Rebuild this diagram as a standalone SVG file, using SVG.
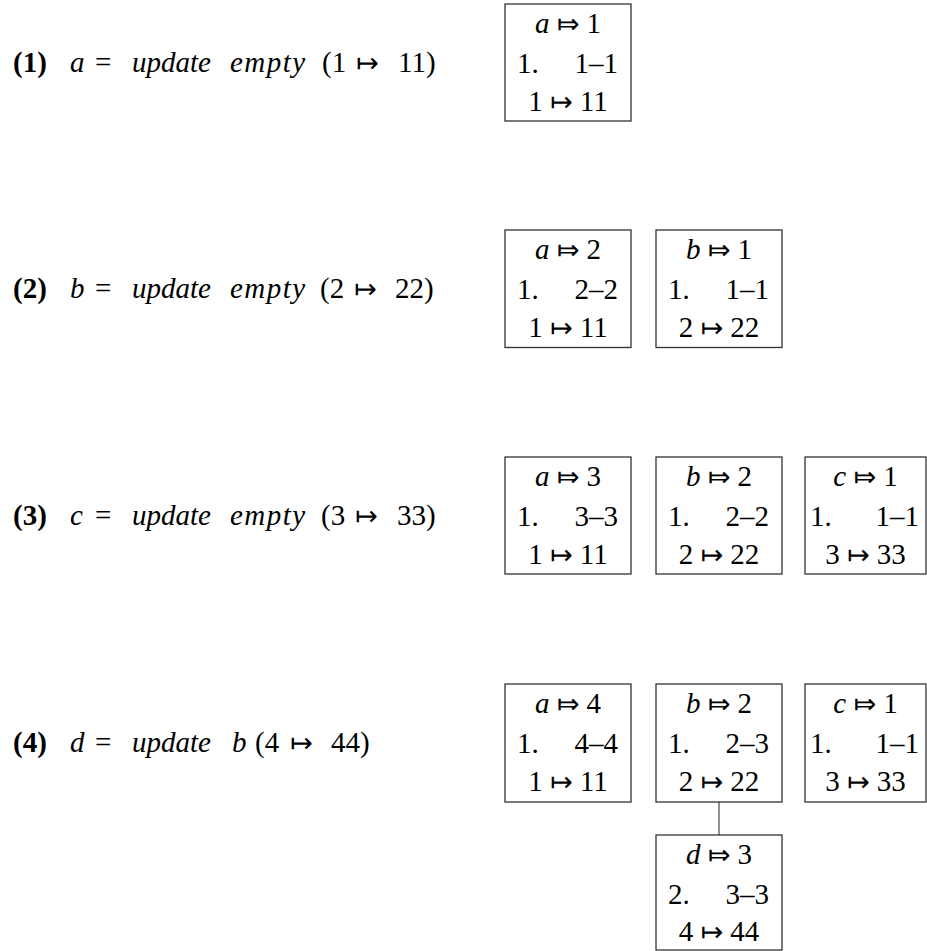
<svg xmlns="http://www.w3.org/2000/svg" width="927" height="951" viewBox="0 0 927 951">
<style>
.t{font-family:"Liberation Serif","DejaVu Serif",serif;font-size:29px;fill:#000}
.i{font-style:italic}
.b{font-weight:bold}
.ar{font-family:"DejaVu Sans","DejaVu Serif",sans-serif;font-size:27px}
.box{fill:#fff;stroke:#333;stroke-width:1.3}
.m{text-anchor:middle}
.e{text-anchor:end}
.con{stroke:#555;stroke-width:1.3;fill:none}
</style>
<rect width="927" height="951" fill="#fff"/>
<g id="labels">
<text class="t" y="72"><tspan x="13" class="b">(1)</tspan><tspan x="70" class="i">a</tspan><tspan x="95">=</tspan><tspan x="132" class="i">update</tspan><tspan x="230" class="i" letter-spacing="1.5">empty</tspan><tspan x="322">(1</tspan><tspan x="356" class="ar">↦</tspan><tspan x="398">11)</tspan></text>
<text class="t" y="298"><tspan x="13" class="b">(2)</tspan><tspan x="70" class="i">b</tspan><tspan x="95">=</tspan><tspan x="132" class="i">update</tspan><tspan x="230" class="i" letter-spacing="1.5">empty</tspan><tspan x="320">(2</tspan><tspan x="354" class="ar">↦</tspan><tspan x="395">22)</tspan></text>
<text class="t" y="525"><tspan x="13" class="b">(3)</tspan><tspan x="70" class="i">c</tspan><tspan x="95">=</tspan><tspan x="132" class="i">update</tspan><tspan x="230" class="i" letter-spacing="1.5">empty</tspan><tspan x="321">(3</tspan><tspan x="355" class="ar">↦</tspan><tspan x="397">33)</tspan></text>
<text class="t" y="752"><tspan x="13" class="b">(4)</tspan><tspan x="70" class="i">d</tspan><tspan x="95">=</tspan><tspan x="132" class="i">update</tspan><tspan x="232" class="i">b</tspan><tspan x="255">(4</tspan><tspan x="290" class="ar">↦</tspan><tspan x="331">44)</tspan></text>
</g>
<g id="connectors">
<line class="con" x1="719" y1="802" x2="719" y2="835"/>
</g>
<g id="node-a1">
<rect class="box" x="505" y="4" width="126" height="117"/>
<text class="t m" x="568" y="33"><tspan class="i">a</tspan> <tspan class="ar">⤇</tspan> 1</text>
<text class="t" x="517" y="73">1.</text><text class="t e" x="618" y="73">1–1</text>
<text class="t m" x="568" y="111">1 <tspan class="ar">↦</tspan> 11</text>
</g>
<g id="node-a2">
<rect class="box" x="505" y="230" width="126" height="117.5"/>
<text class="t m" x="568" y="259"><tspan class="i">a</tspan> <tspan class="ar">⤇</tspan> 2</text>
<text class="t" x="517" y="299">1.</text><text class="t e" x="618" y="299">2–2</text>
<text class="t m" x="568" y="337">1 <tspan class="ar">↦</tspan> 11</text>
</g>
<g id="node-b2">
<rect class="box" x="656" y="230" width="126" height="117.5"/>
<text class="t m" x="719" y="259"><tspan class="i">b</tspan> <tspan class="ar">⤇</tspan> 1</text>
<text class="t" x="668" y="299">1.</text><text class="t e" x="769" y="299">1–1</text>
<text class="t m" x="719" y="337">2 <tspan class="ar">↦</tspan> 22</text>
</g>
<g id="node-a3">
<rect class="box" x="505" y="457" width="126" height="117"/>
<text class="t m" x="568" y="486"><tspan class="i">a</tspan> <tspan class="ar">⤇</tspan> 3</text>
<text class="t" x="517" y="526">1.</text><text class="t e" x="618" y="526">3–3</text>
<text class="t m" x="568" y="564">1 <tspan class="ar">↦</tspan> 11</text>
</g>
<g id="node-b3">
<rect class="box" x="656" y="457" width="126" height="117"/>
<text class="t m" x="719" y="486"><tspan class="i">b</tspan> <tspan class="ar">⤇</tspan> 2</text>
<text class="t" x="668" y="526">1.</text><text class="t e" x="769" y="526">2–2</text>
<text class="t m" x="719" y="564">2 <tspan class="ar">↦</tspan> 22</text>
</g>
<g id="node-c3">
<rect class="box" x="805" y="457" width="121" height="117"/>
<text class="t m" x="865.5" y="486"><tspan class="i">c</tspan> <tspan class="ar">⤇</tspan> 1</text>
<text class="t" x="810" y="526">1.</text><text class="t e" x="919" y="526">1–1</text>
<text class="t m" x="865.5" y="564">3 <tspan class="ar">↦</tspan> 33</text>
</g>
<g id="node-a4">
<rect class="box" x="505" y="684" width="126" height="118"/>
<text class="t m" x="568" y="713"><tspan class="i">a</tspan> <tspan class="ar">⤇</tspan> 4</text>
<text class="t" x="517" y="753">1.</text><text class="t e" x="618" y="753">4–4</text>
<text class="t m" x="568" y="791">1 <tspan class="ar">↦</tspan> 11</text>
</g>
<g id="node-b4">
<rect class="box" x="656" y="684" width="126" height="118"/>
<text class="t m" x="719" y="713"><tspan class="i">b</tspan> <tspan class="ar">⤇</tspan> 2</text>
<text class="t" x="668" y="753">1.</text><text class="t e" x="769" y="753">2–3</text>
<text class="t m" x="719" y="791">2 <tspan class="ar">↦</tspan> 22</text>
</g>
<g id="node-c4">
<rect class="box" x="805" y="684" width="121" height="118"/>
<text class="t m" x="865.5" y="713"><tspan class="i">c</tspan> <tspan class="ar">⤇</tspan> 1</text>
<text class="t" x="810" y="753">1.</text><text class="t e" x="919" y="753">1–1</text>
<text class="t m" x="865.5" y="791">3 <tspan class="ar">↦</tspan> 33</text>
</g>
<g id="node-d">
<rect class="box" x="656" y="835" width="126" height="115"/>
<text class="t m" x="719" y="864"><tspan class="i">d</tspan> <tspan class="ar">⤇</tspan> 3</text>
<text class="t" x="668" y="904">2.</text><text class="t e" x="769" y="904">3–3</text>
<text class="t m" x="719" y="941">4 <tspan class="ar">↦</tspan> 44</text>
</g>
</svg>
